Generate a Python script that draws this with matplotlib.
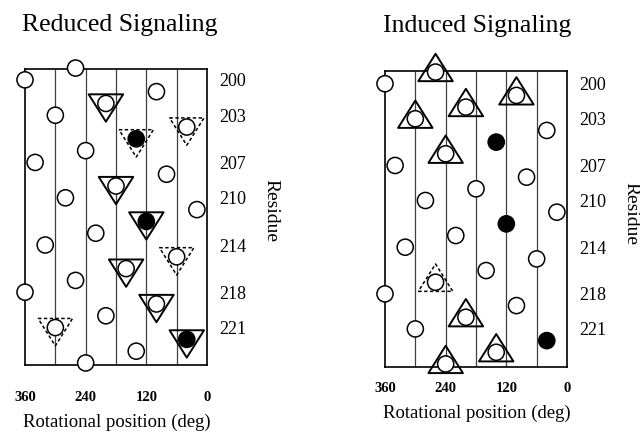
import matplotlib

matplotlib.use("Agg")
import matplotlib.pyplot as plt
from matplotlib.path import Path

########################################################

residues = list(range(199, 225))
angles = [260, 360, 100, 200, 300, 40, 140, 240, 340, 80, 180, 280, 20,
          120, 220, 320, 60, 160, 260, 360, 100, 200, 300, 40, 140, 240]

filled = [205, 212, 222]

reduced_solid = [202, 209, 212, 216, 219, 222]
reduced_dashed = [204, 205, 215, 221]

induced_solid = [199, 201, 202, 203, 206, 220, 223, 224]
induced_dashed = [217]

residue_ticks = [200, 203, 207, 210, 214, 218, 221]
angle_ticks = [360, 240, 120, 0]
grid_angles = [60, 120, 180, 240, 300]

########################################################

plt.rcParams["font.family"] = ["Liberation Serif", "DejaVu Serif"]

angle_of = dict(zip(residues, angles))

tri_down = Path([(-17, 9), (17, 9), (0, -18), (-17, 9)],
                [Path.MOVETO, Path.LINETO, Path.LINETO, Path.CLOSEPOLY])
tri_up = Path([(-17, -9), (17, -9), (0, 18), (-17, -9)],
              [Path.MOVETO, Path.LINETO, Path.LINETO, Path.CLOSEPOLY])

fig = plt.figure(figsize=(6.4, 4.32), dpi=100)


def draw_panel(rect, ylim, solid, dashed, tri, title, title_xy, xlabel_y):
    ax = fig.add_axes(rect)
    ax.set_xlim(360, 0)
    ax.set_ylim(*ylim)

    ax.vlines(grid_angles, ylim[1], ylim[0], color="0.25", lw=0.9, zorder=1)

    ax.scatter([angle_of[r] for r in solid], solid, s=690, marker=tri,
               facecolor="none", edgecolor="black", lw=1.4, zorder=2, clip_on=False)
    ax.scatter([angle_of[r] for r in dashed], dashed, s=690, marker=tri,
               facecolor="none", edgecolor="black", lw=1.1, linestyle=(0, (2.2, 1.6)),
               zorder=2, clip_on=False)

    colors = ["black" if r in filled else "white" for r in residues]
    ax.scatter(angles, residues, s=135, marker="o", facecolor=colors,
               edgecolor="black", lw=1.1, zorder=3, clip_on=False)

    for sp in ax.spines.values():
        sp.set_linewidth(1.2)

    ax.yaxis.tick_right()
    ax.set_yticks(residue_ticks)
    ax.set_yticklabels([str(r) for r in residue_ticks], fontsize=13)
    ax.tick_params(axis="y", length=0, pad=9)

    ax.set_xticks(angle_ticks)
    ax.set_xticklabels([str(a) for a in angle_ticks], fontsize=10.5, fontweight="bold")
    ax.tick_params(axis="x", length=0, pad=xlabel_y[0])

    ax.set_xlabel("Rotational position (deg)", fontsize=13.5)
    ax.xaxis.set_label_coords(0.505, xlabel_y[1])

    ax.text(1.352, 0.52, "Residue", transform=ax.transAxes, rotation=-90,
            ha="center", va="center", fontsize=14)

    fig.text(title_xy[0] / 640, 1 - title_xy[1] / 432, title, fontsize=18.5,
             ha="left", va="baseline")
    return ax


draw_panel([25 / 640, 67.5 / 432, 182 / 640, 295.5 / 432], (224.13, 199.08),
           reduced_solid, reduced_dashed, tri_down, "Reduced Signaling", (22, 31), (19, -0.168))
draw_panel([385 / 640, 65 / 432, 182 / 640, 296 / 432], (224.26, 198.91),
           induced_solid, induced_dashed, tri_up, "Induced Signaling", (383, 32), (11, -0.128))

fig.savefig("out.png", dpi=100)
